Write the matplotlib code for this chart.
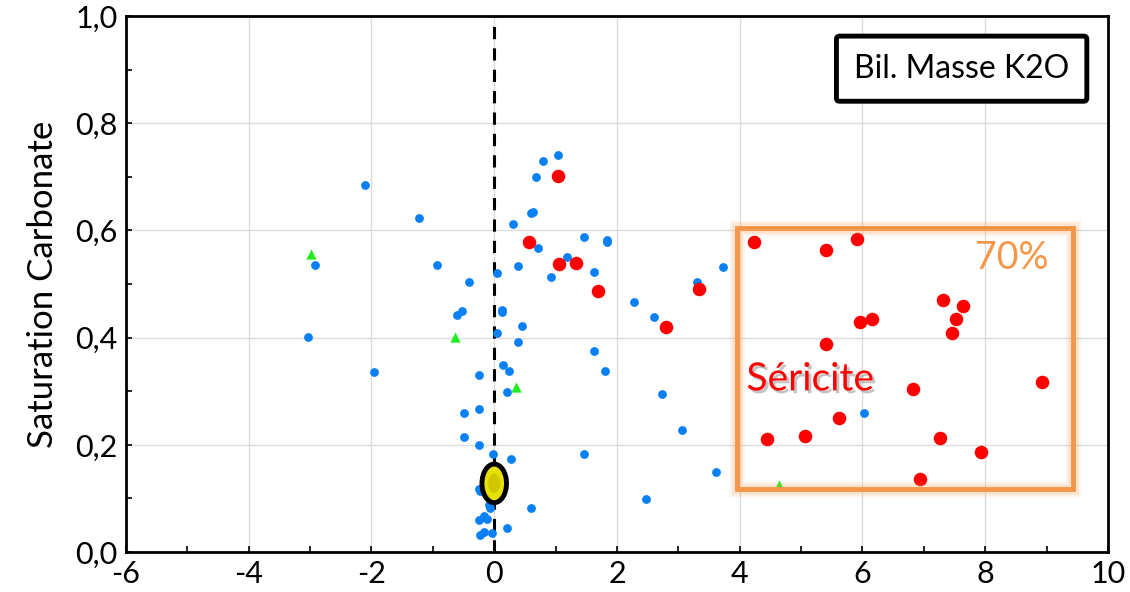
import numpy as np
import matplotlib.pyplot as plt
import matplotlib.patheffects as pe
from matplotlib.patches import Rectangle, Ellipse

plt.rcParams['font.family'] = ['Lato', 'DejaVu Sans']
plt.rcParams['axes.unicode_minus'] = False

# bleu : échantillons
blue_x = [1.04, 0.80, 0.68, -2.10, -1.22, 0.60, 0.63, 0.30, 1.47, 1.83, 1.83, 0.71, 1.18,
          -2.92, -0.93, 0.39, 0.04, 1.62, 0.92, -0.41, 2.27, 0.125, 0.125, -0.61, -0.52,
          0.45, -3.04, 0.04, 0.39, 1.62, -1.96, -0.25, 0.15, 0.24, 1.80, 0.21, -0.25,
          -0.49, -0.49, -0.25, 1.47, -0.02, 0.27, -0.25, -0.23, -0.09, -0.07, 0.60,
          -0.25, -0.17, -0.11, 0.21, -0.23, -0.16, -0.03, 2.60, 3.30, 3.73, 2.74, 3.06,
          3.62, 2.48, 6.02]
blue_y = [0.740, 0.729, 0.699, 0.685, 0.624, 0.632, 0.635, 0.611, 0.588, 0.582, 0.578, 0.567, 0.551,
          0.536, 0.536, 0.533, 0.520, 0.523, 0.513, 0.503, 0.466, 0.452, 0.447, 0.442, 0.449,
          0.422, 0.402, 0.409, 0.392, 0.375, 0.335, 0.331, 0.348, 0.338, 0.338, 0.298, 0.267,
          0.260, 0.214, 0.199, 0.183, 0.183, 0.173, 0.118, 0.113, 0.088, 0.082, 0.082,
          0.060, 0.067, 0.062, 0.045, 0.032, 0.037, 0.035, 0.439, 0.503, 0.531, 0.294, 0.227,
          0.149, 0.099, 0.260]

# rouge : séricite
red_x = [1.04, 0.56, 1.06, 1.33, 1.69, 3.33, 2.80, 4.23, 5.41, 5.91, 7.32, 7.64, 7.52,
         7.46, 5.96, 6.15, 5.41, 8.93, 6.82, 5.62, 4.44, 5.06, 7.26, 7.93, 6.93]
red_y = [0.702, 0.578, 0.537, 0.540, 0.486, 0.490, 0.419, 0.578, 0.563, 0.584, 0.470, 0.459, 0.435,
         0.409, 0.429, 0.435, 0.388, 0.318, 0.304, 0.250, 0.211, 0.217, 0.213, 0.186, 0.136]

# vert : triangles
green_x = [-2.99, -0.64, 0.36, 4.64]
green_y = [0.556, 0.401, 0.307, 0.125]

# point moyen (ellipse jaune)
mean_x, mean_y = 0.0, 0.128

x_ticks = [-6, -4, -2, 0, 2, 4, 6, 8, 10]
y_ticks = [0.0, 0.2, 0.4, 0.6, 0.8, 1.0]
y_labels = ['0,0', '0,2', '0,4', '0,6', '0,8', '1,0']

fig = plt.figure(figsize=(11.3, 5.92), dpi=100)
ax = fig.add_axes([0.1115, 0.0676, 0.869, 0.9054])

ax.set_xlim(-6, 10)
ax.set_ylim(0, 1)
ax.set_xticks(x_ticks)
ax.set_yticks(y_ticks)
ax.set_yticklabels(y_labels)
ax.set_xticks(np.arange(-5, 10, 2), minor=True)
ax.set_yticks(np.arange(0.1, 1.0, 0.2), minor=True)
ax.tick_params(which='both', direction='in', length=4, width=1.2, labelsize=22, pad=6)
ax.grid(True, which='major', color='#dcdcdc', lw=1)
ax.set_axisbelow(True)
for s in ax.spines.values():
    s.set_linewidth(2)
ax.set_ylabel('Saturation Carbonate', fontsize=25, labelpad=12)

# ligne verticale en x=0
ax.axvline(0, color='black', ls=(0, (4, 3)), lw=2.2, zorder=2)

ax.scatter(blue_x, blue_y, s=40, color='#0a80f5', zorder=3, linewidths=0)
ax.scatter(green_x, green_y, s=55, marker='^', color='#22ee22', zorder=3, linewidths=0)
ax.scatter(red_x, red_y, s=95, color='#ff0000', zorder=4, linewidths=0)

# ellipse jaune
ax.add_patch(Ellipse((mean_x, mean_y), 0.40, 0.072, facecolor='#e8e000',
                     edgecolor='black', lw=3.5, zorder=5))
ax.add_patch(Ellipse((mean_x, mean_y), 0.20, 0.036, facecolor='#b8b000',
                     edgecolor='none', alpha=0.5, zorder=5))

# cadre orange avec halo
bx0, bx1, by0, by1 = 3.95, 9.43, 0.118, 0.604
for lw, a in [(11, 0.10), (8, 0.15)]:
    ax.add_patch(Rectangle((bx0, by0), bx1 - bx0, by1 - by0, fill=False,
                           edgecolor='#f79646', lw=lw, alpha=a, zorder=6))
ax.add_patch(Rectangle((bx0, by0), bx1 - bx0, by1 - by0, fill=False,
                       edgecolor='#f79646', lw=3.5, zorder=6))

ax.text(9.03, 0.548, '70%', color='#f79646', fontsize=27, ha='right', va='center', zorder=7)
ax.text(5.15, 0.322, 'Séricite', color='#ff0000', fontsize=28, ha='center', va='center', zorder=7,
        path_effects=[pe.withSimplePatchShadow(offset=(2, -2), shadow_rgbFace='#888888', alpha=0.5)])

# étiquette
fig.text(0.851, 0.884, 'Bil. Masse K2O', fontsize=23, ha='center', va='center',
         bbox=dict(boxstyle='round,pad=0.55,rounding_size=0.1', facecolor='white',
                   edgecolor='black', lw=3.5))

fig.savefig('out.png', dpi=100)
